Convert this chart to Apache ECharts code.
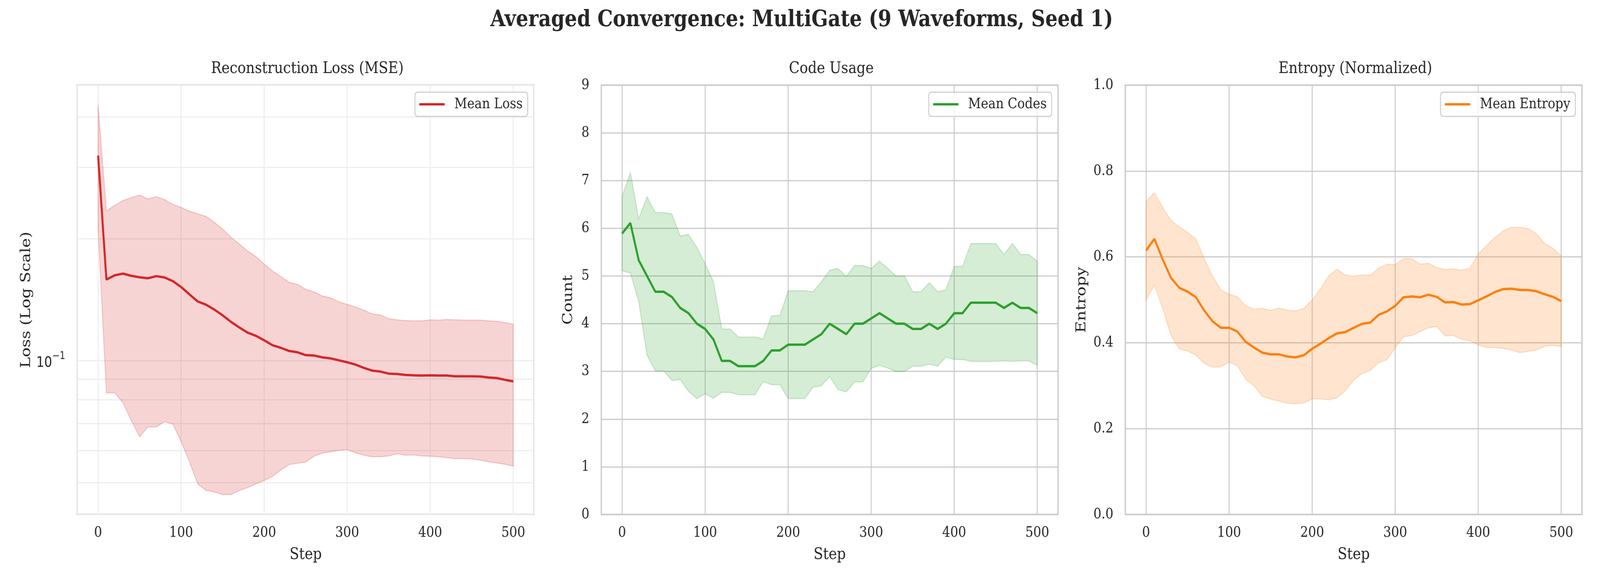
<!DOCTYPE html>
<html><head><meta charset="utf-8">
<script src="https://cdn.jsdelivr.net/npm/echarts@6/dist/echarts.min.js"></script>
<style>html,body{margin:0;padding:0;background:#fff;overflow:hidden}#c{width:4800px;height:1500px;transform-origin:0 0}</style>
</head><body><div id="c"></div>
<script>
const steps = [0,10,20,30,40,50,60,70,80,90,100,110,120,130,140,150,160,170,180,190,200,210,220,230,240,250,260,270,280,290,300,310,320,330,340,350,360,370,380,390,400,410,420,430,440,450,460,470,480,490,500];

const lossMean = [0.321,0.1586,0.1625,0.164,0.162,0.1607,0.1598,0.1617,0.1605,0.1572,0.152,0.1458,0.140,0.1375,0.1337,0.1294,0.1247,0.1208,0.1173,0.1152,0.1123,0.1092,0.1076,0.1057,0.1049,0.1032,0.1030,0.1019,0.1013,0.1002,0.0991,0.0978,0.0960,0.0945,0.0940,0.0929,0.0927,0.0922,0.0920,0.0919,0.0920,0.0919,0.0919,0.0915,0.0915,0.0915,0.0914,0.0909,0.0906,0.0897,0.0889];
const lossUpper = [0.4286,0.2343,0.2417,0.2485,0.2527,0.2564,0.2508,0.2541,0.2499,0.2431,0.2391,0.2339,0.2305,0.2271,0.2197,0.2113,0.2018,0.1942,0.1866,0.1808,0.1733,0.1665,0.1614,0.1561,0.1544,0.1501,0.1479,0.1444,0.1429,0.1398,0.1377,0.1357,0.1332,0.1305,0.1296,0.1270,0.1261,0.1256,0.1254,0.1254,0.1261,0.1259,0.1263,0.1261,0.1259,0.1259,0.1259,0.1254,0.1251,0.1242,0.1231];
const lossLower = [0.210,0.0833,0.0833,0.0787,0.0711,0.0649,0.0686,0.0686,0.0707,0.0698,0.0631,0.0563,0.0496,0.0478,0.0474,0.0467,0.0467,0.0478,0.0486,0.0496,0.0506,0.0518,0.0537,0.0554,0.0558,0.0562,0.0581,0.0591,0.0596,0.0601,0.0603,0.0592,0.0584,0.0579,0.0579,0.0582,0.0589,0.0584,0.0585,0.0582,0.0581,0.0579,0.0576,0.0573,0.0573,0.0572,0.0568,0.0563,0.0559,0.0555,0.0549];

const codesMean = [5.89,6.11,5.33,5.00,4.67,4.67,4.56,4.33,4.22,4.00,3.89,3.67,3.22,3.22,3.11,3.11,3.11,3.22,3.44,3.44,3.56,3.56,3.56,3.67,3.78,4.00,3.89,3.78,4.00,4.00,4.11,4.22,4.11,4.00,4.00,3.89,3.89,4.00,3.89,4.00,4.22,4.22,4.44,4.44,4.44,4.44,4.33,4.44,4.33,4.33,4.22];
const codesUpper = [6.67,7.17,6.20,6.66,6.33,6.33,6.30,5.84,5.87,5.60,5.26,4.88,3.89,3.89,3.72,3.72,3.72,3.68,4.17,4.17,4.69,4.69,4.69,4.67,4.88,5.12,5.16,4.99,5.22,5.22,5.16,5.31,5.16,5.00,5.00,4.67,4.67,4.86,4.67,4.71,5.20,5.20,5.68,5.68,5.68,5.68,5.45,5.68,5.45,5.45,5.31];
const codesLower = [5.11,5.06,4.46,3.34,3.01,3.01,2.81,2.83,2.58,2.43,2.53,2.44,2.56,2.56,2.51,2.51,2.51,2.79,2.72,2.72,2.43,2.43,2.43,2.67,2.70,2.89,2.62,2.57,2.78,2.78,3.06,3.13,3.07,3.00,3.00,3.11,3.11,3.15,3.11,3.30,3.25,3.25,3.21,3.21,3.21,3.21,3.22,3.21,3.22,3.22,3.13];

const entMean = [0.615,0.642,0.594,0.551,0.528,0.519,0.506,0.475,0.450,0.435,0.435,0.426,0.402,0.389,0.377,0.373,0.373,0.368,0.366,0.371,0.386,0.398,0.411,0.422,0.425,0.435,0.444,0.447,0.465,0.473,0.486,0.506,0.508,0.506,0.512,0.507,0.494,0.495,0.489,0.490,0.499,0.508,0.518,0.525,0.526,0.523,0.523,0.520,0.513,0.507,0.497];
const entUpper = [0.730,0.749,0.715,0.685,0.670,0.657,0.642,0.596,0.555,0.523,0.513,0.507,0.486,0.478,0.480,0.475,0.481,0.476,0.474,0.480,0.500,0.526,0.556,0.571,0.558,0.555,0.558,0.557,0.574,0.583,0.582,0.596,0.596,0.583,0.585,0.575,0.571,0.572,0.569,0.574,0.607,0.626,0.645,0.660,0.669,0.669,0.666,0.654,0.631,0.620,0.602];
const entLower = [0.500,0.534,0.480,0.417,0.386,0.381,0.371,0.352,0.343,0.344,0.355,0.346,0.315,0.300,0.275,0.269,0.264,0.259,0.258,0.260,0.269,0.269,0.267,0.272,0.289,0.313,0.328,0.336,0.354,0.360,0.388,0.414,0.417,0.426,0.435,0.438,0.416,0.417,0.408,0.405,0.395,0.389,0.389,0.387,0.383,0.377,0.380,0.383,0.392,0.394,0.391];

const lossMinorTicks = [0.05,0.06,0.07,0.08,0.09,0.2,0.3,0.4];
const xTickLabels = [0,100,200,300,400,500];

const FONT = 'DejaVu Serif';
const MATHFONT = 'DejaVu Sans';
const TXT = '#262626';
const GRID_TOP = 218, GRID_H = 1099, GRID_W = 1370;
const lefts = [232, 1804, 3376];

const el = document.getElementById('c');
const vw = window.innerWidth || 4800, vh = window.innerHeight || 1500;
const sx = vw / 4800, sy = vh / 1500;
if (Math.abs(sx - 1) > 0.002 || Math.abs(sy - 1) > 0.002) {
  el.style.transform = 'scale(' + sx + ',' + sy + ')';
}
const chart = echarts.init(el, null, {renderer: 'canvas', width: 4800, height: 1500});

function band(idx, upper, lower, fill) {
  return {
    type: 'custom', xAxisIndex: idx, yAxisIndex: idx, z: 2, silent: true,
    data: [[steps[0], upper[0]]],
    encode: {x: 0, y: 1},
    renderItem: function (params, api) {
      const pts = [];
      for (let i = 0; i < steps.length; i++) pts.push(api.coord([steps[i], upper[i]]));
      for (let i = steps.length - 1; i >= 0; i--) pts.push(api.coord([steps[i], lower[i]]));
      return {type: 'polygon', shape: {points: pts}, style: {fill: fill, stroke: fill, lineWidth: 3}};
    }
  };
}
function meanLine(idx, name, vals, color, extra) {
  return Object.assign({
    type: 'line', name: name, xAxisIndex: idx, yAxisIndex: idx, z: 3,
    data: steps.map((s, i) => [s, vals[i]]),
    symbol: 'none', showSymbol: false,
    lineStyle: {width: 6, color: color}, itemStyle: {color: color}
  }, extra || {});
}
function xAxis(idx, gridColor) {
  return {
    type: 'value', gridIndex: idx, min: -25, max: 525, splitNumber: 5,
    name: 'Step', nameLocation: 'middle', nameGap: 82,
    nameTextStyle: {fontFamily: FONT, fontSize: 41.7, color: TXT},
    axisLine: {show: false}, axisTick: {show: false},
    axisLabel: {fontFamily: FONT, fontSize: 37.5, color: TXT, margin: 28,
      formatter: v => (xTickLabels.indexOf(v) >= 0 ? String(v) : '')},
    splitLine: {show: true, lineStyle: {color: gridColor, width: 3}}
  };
}
function legend(name, right) {
  return {
    data: [{name: name, icon: 'rect'}], right: right, top: 236, orient: 'vertical',
    backgroundColor: 'rgba(255,255,255,0.8)', borderColor: '#d0d0d0', borderWidth: 3, borderRadius: 8,
    padding: [12, 15, 12, 13], itemWidth: 76, itemHeight: 6,
    textStyle: {fontFamily: FONT, fontSize: 37.5, color: TXT, padding: [0, 0, 0, 24]}
  };
}

const option = {
  animation: false,
  backgroundColor: '#ffffff',
  textStyle: {fontFamily: FONT},
  title: [
    {text: 'Averaged Convergence: MultiGate (9 Waveforms, Seed 1)', left: 2400, textAlign: 'center', top: 18,
      textStyle: {fontFamily: FONT, fontWeight: 'bold', fontSize: 58.3, color: TXT}},
    {text: 'Reconstruction Loss (MSE)', left: lefts[0] + GRID_W / 2, textAlign: 'center', top: 150,
      textStyle: {fontFamily: FONT, fontWeight: 'normal', fontSize: 41.7, color: TXT}},
    {text: 'Code Usage', left: lefts[1] + GRID_W / 2, textAlign: 'center', top: 150,
      textStyle: {fontFamily: FONT, fontWeight: 'normal', fontSize: 41.7, color: TXT}},
    {text: 'Entropy (Normalized)', left: lefts[2] + GRID_W / 2, textAlign: 'center', top: 150,
      textStyle: {fontFamily: FONT, fontWeight: 'normal', fontSize: 41.7, color: TXT}}
  ],
  legend: [legend('Mean Loss', 3217), legend('Mean Codes', 1645), legend('Mean Entropy', 74)],
  grid: lefts.map(l => ({left: l, top: GRID_TOP, width: GRID_W, height: GRID_H, show: true,
    borderColor: '#cccccc', borderWidth: 4, backgroundColor: 'transparent', containLabel: false})),
  xAxis: [xAxis(0, '#eeeeee'), xAxis(1, '#cccccc'), xAxis(2, '#cccccc')],
  yAxis: [
    {type: 'log', gridIndex: 0, logBase: 10, min: 0.0417, max: 0.479,
      name: 'Loss (Log Scale)', nameLocation: 'middle', nameGap: 132,
      nameTextStyle: {fontFamily: FONT, fontSize: 41.7, color: TXT},
      axisLine: {show: false}, axisTick: {show: false},
      axisLabel: {fontFamily: MATHFONT, fontSize: 37, color: TXT, margin: 36,
        formatter: v => (Math.abs(v - 0.1) < 1e-9 ? '{a|10}{b|−1}' : ''),
        rich: {a: {fontFamily: MATHFONT, fontSize: 37, color: TXT, lineHeight: 50, verticalAlign: 'bottom'},
               b: {fontFamily: MATHFONT, fontSize: 27, color: TXT, lineHeight: 27, verticalAlign: 'top'}}},
      splitLine: {show: true, lineStyle: {color: '#eeeeee', width: 3}}},
    {type: 'value', gridIndex: 1, min: 0, max: 9, interval: 1,
      name: 'Count', nameLocation: 'middle', nameGap: 78,
      nameTextStyle: {fontFamily: FONT, fontSize: 41.7, color: TXT},
      axisLine: {show: false}, axisTick: {show: false},
      axisLabel: {fontFamily: FONT, fontSize: 37.5, color: TXT, margin: 36},
      splitLine: {show: true, lineStyle: {color: '#cccccc', width: 3}}},
    {type: 'value', gridIndex: 2, min: 0, max: 1, interval: 0.2,
      name: 'Entropy', nameLocation: 'middle', nameGap: 110,
      nameTextStyle: {fontFamily: FONT, fontSize: 41.7, color: TXT},
      axisLine: {show: false}, axisTick: {show: false},
      axisLabel: {fontFamily: FONT, fontSize: 37.5, color: TXT, margin: 36, formatter: v => v.toFixed(1)},
      splitLine: {show: true, lineStyle: {color: '#cccccc', width: 3}}}
  ],
  series: [
    band(0, lossUpper, lossLower, 'rgba(214,39,40,0.2)'),
    meanLine(0, 'Mean Loss', lossMean, '#d62728', {
      markLine: {silent: true, z: 1, symbol: ['none', 'none'], label: {show: false},
        lineStyle: {color: '#eeeeee', type: 'solid', width: 3},
        emphasis: {disabled: true},
        data: lossMinorTicks.map(v => ({yAxis: v}))}
    }),
    band(1, codesUpper, codesLower, 'rgba(44,160,44,0.2)'),
    meanLine(1, 'Mean Codes', codesMean, '#2ca02c'),
    band(2, entUpper, entLower, 'rgba(255,127,14,0.2)'),
    meanLine(2, 'Mean Entropy', entMean, '#ff7f0e')
  ]
};
chart.setOption(option);
</script>
</body></html>
